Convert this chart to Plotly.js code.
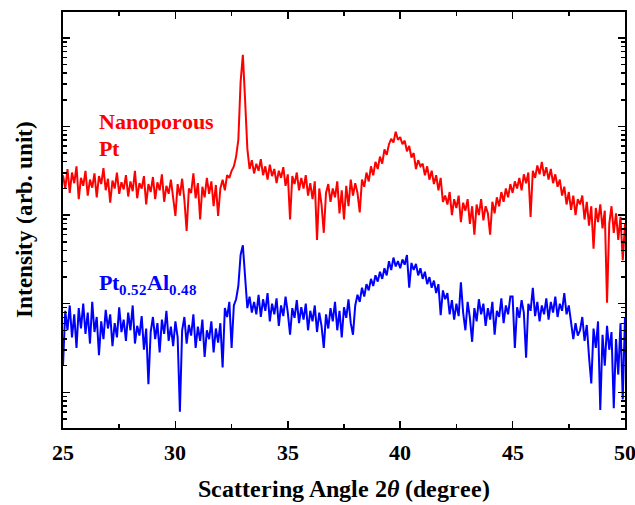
<!DOCTYPE html>
<html>
<head>
<meta charset="utf-8">
<script src="https://cdn.plot.ly/plotly-3.0.1.min.js"></script>
<style>
@font-face { font-family: "ChartSerif"; font-weight: bold; font-style: normal;
  src: local("Liberation Serif Bold"), local("LiberationSerif-Bold"); }
@font-face { font-family: "ChartSerif"; font-weight: bold; font-style: italic;
  src: local("Liberation Serif Bold Italic"), local("LiberationSerif-BoldItalic"); }
@font-face { font-family: "ChartSerif"; font-weight: normal; font-style: normal;
  src: local("Liberation Serif"), local("LiberationSerif"); }
html,body{margin:0;padding:0;background:#fff;}
#chart{width:635px;height:505px;}
</style>
</head>
<body>
<div id="chart"></div>
<script>
// Scan grid (degrees 2theta)
const angleStart = 25.0;
const angleStep = 0.1;

// log10 of intensity (arb. unit), one value per 0.1 deg from 25.0 to 50.0
const nanoporousPtLogI = [
  3.45,3.30,3.52,3.25,3.48,3.36,3.55,3.18,3.42,3.33,
  3.50,3.22,3.40,3.31,3.47,3.20,3.44,3.35,3.53,3.28,
  3.41,3.14,3.39,3.30,3.48,3.24,3.37,3.29,3.45,3.21,
  3.38,3.27,3.50,3.19,3.36,3.30,3.44,3.12,3.35,3.26,
  3.43,3.18,3.37,3.28,3.46,3.15,3.33,3.24,3.40,3.20,
  2.99,3.35,3.22,3.41,3.17,2.82,3.30,3.25,3.47,3.19,
  3.36,2.95,3.32,3.20,3.42,3.24,3.38,3.10,3.34,2.99,
  3.30,3.40,3.28,3.45,3.42,3.50,3.55,3.66,3.85,4.50,
  4.81,4.30,3.75,3.52,3.62,3.47,3.58,3.50,3.63,3.45,
  3.55,3.40,3.57,3.44,3.52,3.36,3.50,3.42,3.54,3.33,
  3.46,2.95,3.44,3.35,3.48,3.28,3.42,3.30,3.45,3.22,
  3.36,3.18,3.38,2.72,3.30,3.12,2.80,3.25,3.35,3.15,
  3.30,3.20,3.38,3.02,3.28,2.95,3.33,3.10,3.40,3.22,
  3.36,3.25,3.03,3.40,3.32,3.48,3.38,3.55,3.45,3.60,
  3.52,3.66,3.58,3.74,3.68,3.80,3.86,3.82,3.94,3.85,
  3.88,3.80,3.84,3.72,3.78,3.65,3.70,3.52,3.62,3.55,
  3.58,3.45,3.55,3.40,3.50,3.35,3.45,3.28,3.42,3.15,
  3.22,3.12,3.26,3.00,3.18,3.08,3.22,2.92,3.14,3.05,
  3.18,2.90,3.10,2.78,3.12,3.00,3.18,2.94,3.10,3.02,
  2.78,3.15,3.02,3.20,3.10,3.26,3.15,3.30,3.20,3.35,
  3.25,3.38,3.30,3.42,3.28,3.46,3.36,3.48,2.98,3.50,
  3.42,3.56,3.46,3.60,3.44,3.54,3.40,3.52,3.36,3.46,
  3.32,3.40,3.22,3.32,3.12,3.26,3.06,3.22,3.00,3.18,
  3.12,3.22,2.95,3.15,2.88,3.10,2.62,3.08,2.92,3.12,
  2.85,3.05,2.01,2.90,3.10,2.80,3.02,2.72,2.98,2.49,
  2.90
];

const ptAlLogI = [
  1.30,1.92,1.70,1.98,1.62,1.88,1.50,1.95,1.72,2.00,
  1.66,1.90,1.55,2.02,1.68,1.85,1.42,1.80,1.60,1.93,
  1.72,1.88,1.52,1.78,1.62,1.96,1.68,1.82,1.58,1.90,
  1.70,1.98,1.55,1.75,1.64,1.86,1.48,1.72,1.09,1.68,
  1.85,1.60,1.78,1.45,1.82,1.66,1.92,1.58,1.74,1.52,
  1.80,1.62,0.78,1.70,1.85,1.55,1.76,1.64,1.88,1.50,
  1.74,1.58,1.82,1.40,1.70,1.60,1.80,1.45,1.72,1.56,
  1.78,1.28,1.95,1.85,2.02,1.50,1.98,2.05,2.20,2.55,
  2.66,2.30,1.95,2.08,1.90,2.02,1.88,2.10,1.85,2.05,
  1.92,2.12,1.80,2.00,1.88,2.06,1.75,1.98,1.86,2.08,
  1.90,1.65,1.95,1.84,2.04,1.78,1.96,1.82,2.00,1.70,
  1.92,1.80,1.98,1.68,1.90,1.75,1.50,1.88,1.72,1.95,
  1.80,2.02,1.70,1.92,1.62,1.96,1.84,2.05,1.78,1.65,
  1.98,2.10,2.02,2.18,2.08,2.22,2.15,2.28,2.20,2.32,
  2.25,2.36,2.28,2.40,2.32,2.48,2.38,2.52,2.42,2.48,
  2.40,2.50,2.44,2.55,2.18,2.46,2.38,2.45,2.32,2.40,
  2.28,2.36,2.22,2.30,2.18,2.26,2.12,2.22,1.87,2.15,
  2.05,2.12,1.88,2.04,1.82,2.00,1.86,2.24,1.90,1.70,
  2.02,1.84,1.57,1.95,1.80,2.05,1.88,2.00,1.75,1.95,
  1.82,2.02,1.65,1.92,1.85,2.06,1.78,1.98,1.88,2.08,
  2.08,1.50,1.96,1.84,2.04,1.90,1.39,2.00,1.92,2.18,
  1.86,2.02,1.80,1.98,1.88,2.06,1.82,2.02,1.90,2.08,
  1.85,2.00,1.92,2.12,1.88,1.98,1.80,1.60,1.78,1.64,
  1.70,1.85,1.58,1.76,1.40,1.10,1.72,1.50,1.80,0.80,
  1.65,1.30,1.75,1.48,1.68,0.82,1.60,1.20,1.78,0.92,
  1.85
];

const seriesNames = ["Nanoporous Pt", "Pt0.52Al0.48"];
const seriesColors = ["#ff0000", "#0000ff"];
const xRange = [25, 50];
const xMajorStep = 5;
const xMinorStep = 2.5;

const angle = nanoporousPtLogI.map((_, i) => +(angleStart + i * angleStep).toFixed(2));
const toIntensity = arr => arr.map(v => Math.pow(10, v));

const FONT = "ChartSerif";

function draw() {
  const traces = [
    { x: angle, y: toIntensity(nanoporousPtLogI), name: seriesNames[0], type: "scatter", mode: "lines",
      line: { color: seriesColors[0], width: 2 } },
    { x: angle, y: toIntensity(ptAlLogI), name: seriesNames[1], type: "scatter", mode: "lines",
      line: { color: seriesColors[1], width: 2 } }
  ];

  const layout = {
    width: 635, height: 505,
    margin: { l: 63, r: 10, t: 12, b: 77 },
    paper_bgcolor: "white", plot_bgcolor: "white",
    showlegend: false,
    xaxis: {
      range: xRange, tick0: 25, dtick: xMajorStep,
      ticks: "inside", ticklen: 7, tickwidth: 1.5, tickcolor: "black",
      showline: true, linewidth: 2, linecolor: "black", mirror: "ticks",
      showgrid: false, zeroline: false,
      tickfont: { family: FONT, size: 22, weight: "bold", color: "black" },
      ticklabelstandoff: 4,
      ticklabeloverflow: "allow",
      minor: { tick0: 25, dtick: xMinorStep, ticks: "inside", ticklen: 4, tickwidth: 1.5, tickcolor: "black", showgrid: false },
      title: { text: "Scattering Angle 2<i>θ</i> (degree)", font: { family: FONT, size: 24, weight: "bold", color: "black" }, standoff: 16 }
    },
    yaxis: {
      type: "log", range: [0.597, 5.292], dtick: 1,
      ticks: "inside", ticklen: 7, tickwidth: 1.5, tickcolor: "black",
      showticklabels: false,
      showline: true, linewidth: 2, linecolor: "black", mirror: "ticks",
      showgrid: false, zeroline: false,
      minor: { dtick: "D1", ticks: "inside", ticklen: 4, tickwidth: 1.5, tickcolor: "black", showgrid: false },
      title: { text: "Intensity (arb. unit)", font: { family: FONT, size: 23, weight: "bold", color: "black" }, standoff: 22 }
    },
    annotations: [
      { text: "Nanoporous", xref: "x", yref: "paper", x: 26.5, y: 0.7356, xanchor: "left", yanchor: "middle",
        showarrow: false, font: { family: FONT, size: 22, weight: "bold", color: seriesColors[0] } },
      { text: "Pt", xref: "x", yref: "paper", x: 26.5, y: 0.6707, xanchor: "left", yanchor: "middle",
        showarrow: false, font: { family: FONT, size: 22, weight: "bold", color: seriesColors[0] } },
      { text: "Pt<sub>0.52</sub>Al<sub>0.48</sub>", xref: "x", yref: "paper", x: 26.5, y: 0.346, xanchor: "left", yanchor: "middle",
        showarrow: false, font: { family: FONT, size: 22, weight: "bold", color: seriesColors[1] } }
    ]
  };

  Plotly.newPlot("chart", traces, layout, { displayModeBar: false, staticPlot: true });
}

if (document.fonts && document.fonts.load) {
  Promise.all([
    document.fonts.load('bold 22px "ChartSerif"'),
    document.fonts.load('italic bold 22px "ChartSerif"')
  ]).then(draw, draw);
} else {
  draw();
}
</script>
</body>
</html>
